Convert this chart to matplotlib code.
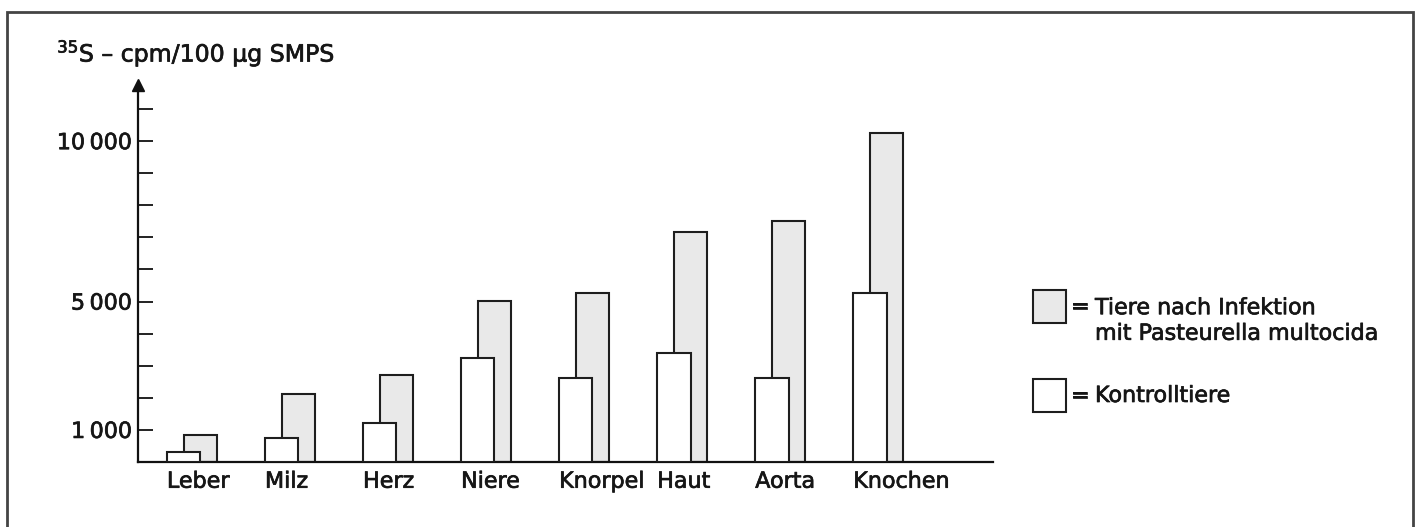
import matplotlib
matplotlib.use("Agg")
import matplotlib.pyplot as plt
import matplotlib.patheffects as pe
from matplotlib.patches import Rectangle
import numpy as np

categories = ["Leber", "Milz", "Herz", "Niere", "Knorpel", "Haut", "Aorta", "Knochen"]
infected = [840, 2120, 2710, 5020, 5260, 7160, 7510, 10250]
control = [310, 750, 1220, 3240, 2620, 3390, 2620, 5260]
ytick_values = [1000, 5000, 10000]
ytick_labels = ["1\u2009000", "5\u2009000", "10\u2009000"]
legend_labels = ["Tiere nach Infektion\nmit Pasteurella multocida", "Kontrolltiere"]
ylabel = r"$^{35}$S – cpm/100 µg SMPS"

plt.rcParams['font.family'] = ['DejaVu Sans']
FS = 16
EDGE = '#1e1e1e'
GRAY = '#e9e9e9'
TXT = '#161616'
PE = [pe.withStroke(linewidth=0.5, foreground=TXT)]

fig = plt.figure(figsize=(14.24, 5.27), dpi=100)
ax = fig.add_axes([138/1424, 65/527, (993-138)/1424, (462-85)/527])

x = np.arange(len(categories))
w = 0.34
off = 0.085
ax.bar(x + off, infected, width=w, color=GRAY, edgecolor=EDGE, linewidth=1.5, zorder=2)
ax.bar(x - off, control, width=w, color='white', edgecolor=EDGE, linewidth=1.5, zorder=3)

ax.set_xlim(-0.55, 8.17)
ax.set_ylim(0, 11750)

for s in ['top', 'right']:
    ax.spines[s].set_visible(False)
for s in ['left', 'bottom']:
    ax.spines[s].set_linewidth(1.6)
    ax.spines[s].set_color('#111')

ax.set_yticks(np.arange(1000, 11001, 1000))
ax.set_yticklabels([ytick_labels[ytick_values.index(v)] if v in ytick_values else ""
                    for v in np.arange(1000, 11001, 1000)])
ax.tick_params(axis='y', direction='in', length=11, width=1.4, color='#222',
               labelsize=FS, pad=4, labelcolor=TXT)

ax.set_xticks(x - off - w/2)
ax.set_xticklabels(categories, ha='left')
ax.tick_params(axis='x', length=0, labelsize=FS, pad=7, labelcolor=TXT)
for t in ax.get_xticklabels() + ax.get_yticklabels():
    t.set_path_effects(PE)

# arrow at top of y axis
ax.plot([-0.55], [11750], marker='^', markersize=9, color='#111', clip_on=False, zorder=5)

fig.text(57/1424, 1 - 53/527, ylabel, fontsize=17, va='center', ha='left', color=TXT, path_effects=PE)

# legend
fig.patches.append(Rectangle((1033/1424, (527-323)/527), 33/1424, 33/527,
                             transform=fig.transFigure, facecolor=GRAY, edgecolor=EDGE, linewidth=1.5))
fig.patches.append(Rectangle((1033/1424, (527-412)/527), 33/1424, 33/527,
                             transform=fig.transFigure, facecolor='white', edgecolor=EDGE, linewidth=1.5))
fig.text(1071/1424, 1 - 307/527, "=", fontsize=FS, va='center', ha='left', color=TXT, path_effects=PE)
fig.text(1095/1424, 1 - 321/527, legend_labels[0], fontsize=FS, va='center', ha='left',
         linespacing=1.35, color=TXT, path_effects=PE)
fig.text(1071/1424, 1 - 396/527, "=", fontsize=FS, va='center', ha='left', color=TXT, path_effects=PE)
fig.text(1095/1424, 1 - 396/527, legend_labels[1], fontsize=FS, va='center', ha='left',
         color=TXT, path_effects=PE)

# outer frame
fig.patches.append(Rectangle((7/1424, -0.05), (1413-7)/1424, 1.05 - 12/527,
                             transform=fig.transFigure, facecolor='none', edgecolor='#444', linewidth=2))

fig.savefig("out.png", dpi=100)
